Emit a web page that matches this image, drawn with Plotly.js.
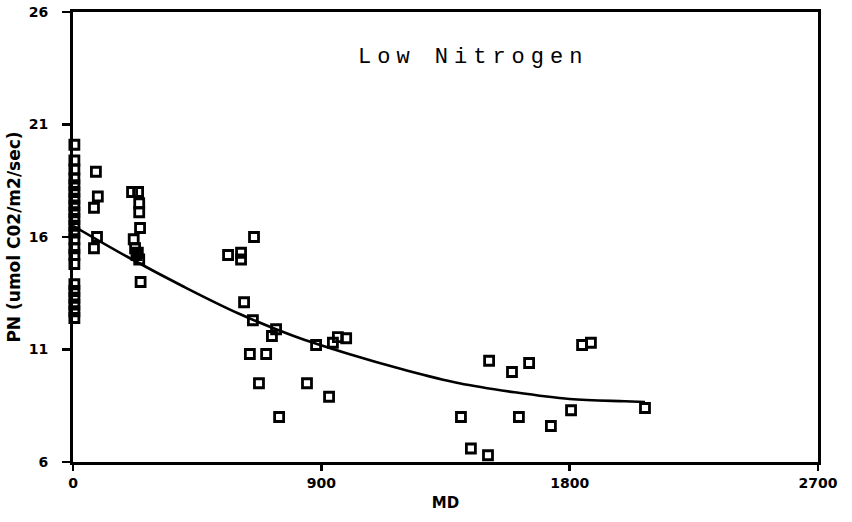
<!DOCTYPE html>
<html>
<head>
<meta charset="utf-8">
<script src="https://cdn.plot.ly/plotly-3.0.1.min.js"></script>
<style>html,body{margin:0;padding:0;background:#fff;}#chart{width:852px;height:522px;}
.annotation-text{letter-spacing:6px;}</style>
</head>
<body>
<div id="chart"></div>
<script>
// Observed points: MD vs PN
var mdObs = [5,5,5,5,5,5,5,5,5,5,5,5,5,5,5,5,5,5,5,5,5,5,
  83,90,76,87,76,
  214,236,240,240,243,220,225,235,240,230,245,
  562,609,609,656,620,652,736,721,641,700,674,747,
  881,848,928,942,960,990,
  1508,1591,1653,1845,1877,1406,1616,1805,1732,2073,1442,1504];
var pnObs = [20.1,19.4,19.0,18.6,18.3,18.0,17.7,17.4,17.1,16.8,16.5,16.2,15.9,15.5,15.2,14.8,13.9,13.6,13.3,13.0,12.7,12.4,
  18.9,17.8,17.3,16.0,15.5,
  18.0,18.0,17.5,17.1,16.4,15.9,15.5,15.3,15.0,15.2,14.0,
  15.2,15.3,15.0,16.0,13.1,12.3,11.9,11.6,10.8,10.8,9.5,8.0,
  11.2,9.5,8.9,11.3,11.55,11.5,
  10.5,10.0,10.4,11.2,11.3,8.0,8.0,8.3,7.6,8.4,6.6,6.3];
// Fitted curve
var mdFit = [0,200,400,600,800,1000,1200,1400,1600,1800,2000,2073];
var pnFit = [16.5,15.1,13.8,12.6,11.6,10.8,10.1,9.5,9.1,8.8,8.7,8.67];
var xTicks = [0,900,1800,2700];
var xTickText = ['0','900','1800','2700'];
var yTicks = [6,11,16,21,26];
var yTickText = ['6','11','16','21','26'];
var titleText = 'Low Nitrogen';
var xTitle = 'MD';
var yTitle = 'PN (umol C02/m2/sec)';

function bold(a) { return a.map(function (t) { return '<b>' + t + '</b>'; }); }

var traces = [
  {x: mdFit, y: pnFit, mode: 'lines', line: {color: '#000', width: 2.6, shape: 'spline'}, hoverinfo: 'skip', showlegend: false},
  {x: mdObs, y: pnObs, mode: 'markers', cliponaxis: false, showlegend: false,
   marker: {symbol: 'square-open', size: 9, color: '#000', line: {width: 2.8, color: '#000'}}}
];
var tickFont = {family: 'DejaVu Sans, sans-serif', size: 14, color: '#000'};
var layout = {
  width: 852, height: 522,
  margin: {l: 73, r: 34, t: 12, b: 60},
  paper_bgcolor: '#fff', plot_bgcolor: '#fff',
  showlegend: false,
  xaxis: {range: [0, 2700], tickvals: xTicks, ticktext: bold(xTickText), ticks: 'outside', ticklen: 6, tickwidth: 2.5,
    tickcolor: '#000', showline: true, linewidth: 3, linecolor: '#000', mirror: true, showgrid: false, zeroline: false,
    tickfont: tickFont, ticklabelstandoff: 0,
    title: {text: '<b>' + xTitle + '</b>', font: {family: 'DejaVu Sans, sans-serif', size: 15, color: '#000'}, standoff: 8}},
  yaxis: {range: [6, 26], tickvals: yTicks, ticktext: bold(yTickText), ticks: 'outside', ticklen: 8, tickwidth: 2.5,
    tickcolor: '#000', showline: true, linewidth: 3, linecolor: '#000', mirror: true, showgrid: false, zeroline: false,
    tickfont: tickFont, ticklabelstandoff: 11,
    title: {text: '<b>' + yTitle + '</b>', font: {family: 'DejaVu Sans, sans-serif', size: 17, color: '#000'}, standoff: 4}},
  annotations: [{text: titleText, xref: 'paper', yref: 'paper', x: 0.537, y: 0.898, xanchor: 'center', yanchor: 'middle',
    showarrow: false, font: {family: 'Liberation Mono, Courier New, monospace', size: 22, color: '#000'}}]
};
Plotly.newPlot('chart', traces, layout, {staticPlot: true, displayModeBar: false});
</script>
</body>
</html>
